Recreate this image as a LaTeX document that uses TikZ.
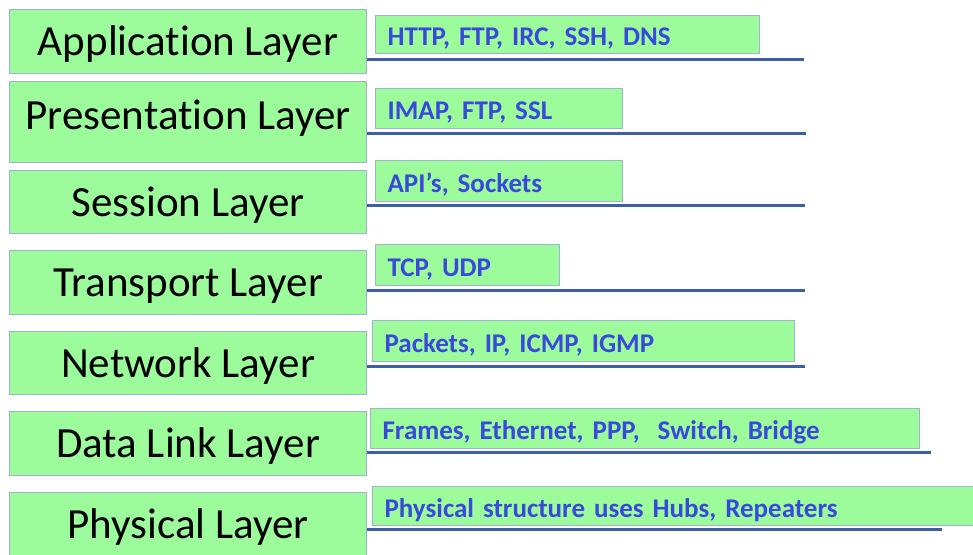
\documentclass[tikz,border=0pt]{standalone}
\usepackage{fontspec}
\setmainfont{Carlito}[Ligatures=NoCommon]
\usepackage{xcolor}
\usetikzlibrary{calc}
\definecolor{leaf}{HTML}{9CFC9C}
\definecolor{edge}{HTML}{9EB3CC}
\definecolor{ink}{HTML}{3A48DC}
\definecolor{rule}{HTML}{3D5FA8}
\tikzset{
  layerBox/.style={draw=edge, fill=leaf, line width=1.2pt, anchor=north west,
    minimum width=357pt, inner sep=0pt, text=black,
    text height=28pt, text depth=0pt,
    font=\fontsize{43}{43}\selectfont},
  protoBox/.style={draw=edge, fill=leaf, line width=1.2pt, anchor=north west,
    inner xsep=12pt, inner ysep=0pt, align=left, text=ink,
    text height=22pt, text depth=0pt,
    font=\bfseries\fontsize{27}{27}\selectfont},
  protoRule/.style={draw=rule, line width=3pt}
}

\begin{document}
\begin{tikzpicture}[x=1pt, y=-1pt]
  \clip (0,0) rectangle (973,554);

  % layer boxes
  \node[layerBox, minimum height=64pt] (app) at (9,9) {Application Layer};
  \node[layerBox, minimum height=81pt, text height=14pt] (pres) at (9,81) {Presentation Layer};
  \node[layerBox, minimum height=63pt] (sess) at (9,170) {Session Layer};
  \node[layerBox, minimum height=64pt] (trans) at (9,250) {Transport Layer};
  \node[layerBox, minimum height=63pt] (net) at (9,331) {Network Layer};
  \node[layerBox, minimum height=64pt] (link) at (9,411) {Data Link Layer};
  \node[layerBox, minimum height=64pt] (phys) at (9,492) {Physical Layer};

  % protocol boxes
  \node[protoBox, text width=360pt, minimum height=38pt] (appP) at (375,15) {HTTP, FTP, IRC, SSH, DNS};
  \node[protoBox, text width=223pt, minimum height=40pt] (presP) at (375,88) {IMAP, FTP, SSL};
  \node[protoBox, text width=223pt, minimum height=41pt] (sessP) at (375,160) {API’s, Sockets};
  \node[protoBox, text width=160pt, minimum height=41pt] (transP) at (375,244) {TCP, UDP};
  \node[protoBox, text width=398pt, minimum height=41pt] (netP) at (372,320) {Packets, IP, ICMP, IGMP};
  \node[protoBox, text width=525pt, minimum height=40pt] (linkP) at (370,408) {Frames, Ethernet, PPP,\ \ Switch, Bridge};
  \node[protoBox, text width=600pt, minimum height=39pt] (physP) at (372,486) {Physical structure uses Hubs, Repeaters};

  % underlines
  \coordinate (appEnd) at (804,59);
  \coordinate (presEnd) at (806,133);
  \coordinate (sessEnd) at (805,205);
  \coordinate (transEnd) at (805,290);
  \coordinate (netEnd) at (805,366);
  \coordinate (linkEnd) at (931,452);
  \coordinate (physEnd) at (942,529);
  \draw[protoRule] (app.east |- appEnd) -- (appEnd);
  \draw[protoRule] (pres.east |- presEnd) -- (presEnd);
  \draw[protoRule] (sess.east |- sessEnd) -- (sessEnd);
  \draw[protoRule] (trans.east |- transEnd) -- (transEnd);
  \draw[protoRule] (net.east |- netEnd) -- (netEnd);
  \draw[protoRule] (link.east |- linkEnd) -- (linkEnd);
  \draw[protoRule] (phys.east |- physEnd) -- (physEnd);
\end{tikzpicture}
\end{document}
